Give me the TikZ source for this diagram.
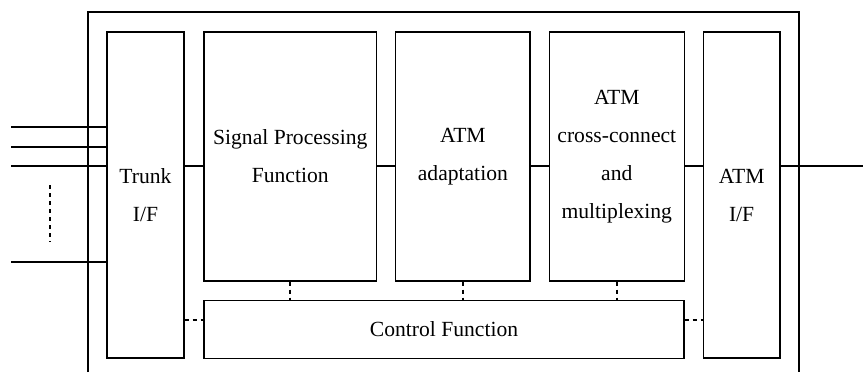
\documentclass[tikz,border=0pt]{standalone}
\usepackage{tikz}
\usepackage{fontspec}
\setmainfont{Liberation Serif}
\newcommand{\unitsize}{0.5pt}

\begin{document}
\begin{tikzpicture}
\useasboundingbox (0,0) rectangle (863*\unitsize,372*\unitsize);
\tikzstyle{every node}=[draw,
			rectangle,
			line width=0.6pt,
			align=center,
			inner sep=0pt,
			font=\fontsize{10.8}{19}\selectfont
			]
\tikzstyle{ctrl}=[line width=1pt, dash pattern=on 2pt off 2pt]

\draw[line width=0.6pt] (88*\unitsize,0) -- (88*\unitsize,360*\unitsize) -- (799*\unitsize,360*\unitsize) -- (799*\unitsize,0);

\node[minimum width=77*\unitsize, minimum height=326*\unitsize] (trunk) at (145.5*\unitsize,177*\unitsize) {Trunk\\I/F};

\node[minimum width=172.5*\unitsize, minimum height=249*\unitsize] (sigproc) at (290.25*\unitsize,215.5*\unitsize) {Signal Processing\\Function};

\node[minimum width=134.3*\unitsize, minimum height=249*\unitsize] (adapt) at (462.85*\unitsize,215.5*\unitsize) {ATM\\adaptation};

\node[minimum width=135*\unitsize, minimum height=249*\unitsize] (xconn) at (616.8*\unitsize,215.5*\unitsize) {ATM\\cross-connect\\and\\multiplexing};

\node[minimum width=76.7*\unitsize, minimum height=326*\unitsize] (atmif) at (741.65*\unitsize,177*\unitsize) {ATM\\I/F};

\node[minimum width=480*\unitsize, minimum height=57.6*\unitsize] (control) at (444*\unitsize,42.5*\unitsize) {Control Function};

\coordinate (in1) at (11*\unitsize,245*\unitsize);
\coordinate (in2) at (11*\unitsize,225*\unitsize);
\coordinate (in3) at (11*\unitsize,206*\unitsize);
\coordinate (in4) at (11*\unitsize,110*\unitsize);
\coordinate (dots1) at (50*\unitsize,187*\unitsize);
\coordinate (dots2) at (50*\unitsize,130*\unitsize);
\coordinate (out) at (863*\unitsize,206*\unitsize);
\coordinate (ctrlbus) at (0,52.5*\unitsize);

\draw[line width=0.6pt] (in1) -- (trunk.west |- in1);
\draw[line width=0.6pt] (in2) -- (trunk.west |- in2);
\draw[line width=0.6pt] (in3) -- (trunk.west |- in3);
\draw[line width=0.6pt] (in4) -- (trunk.west |- in4);
\draw[ctrl] (dots1) -- (dots2);

\draw[line width=0.6pt] (trunk.east |- in3) -- (sigproc.west |- in3);
\draw[line width=0.6pt] (sigproc.east |- in3) -- (adapt.west |- in3);
\draw[line width=0.6pt] (adapt.east |- in3) -- (xconn.west |- in3);
\draw[line width=0.6pt] (xconn.east |- in3) -- (atmif.west |- in3);
\draw[line width=0.6pt] (atmif.east |- out) -- (out);

\draw[ctrl] (sigproc.south) -- (sigproc.south |- control.north);
\draw[ctrl] (adapt.south) -- (adapt.south |- control.north);
\draw[ctrl] (xconn.south) -- (xconn.south |- control.north);
\draw[ctrl] (trunk.east |- ctrlbus) -- (control.west |- ctrlbus);
\draw[ctrl] (control.east |- ctrlbus) -- (atmif.west |- ctrlbus);

\end{tikzpicture}
\end{document}
